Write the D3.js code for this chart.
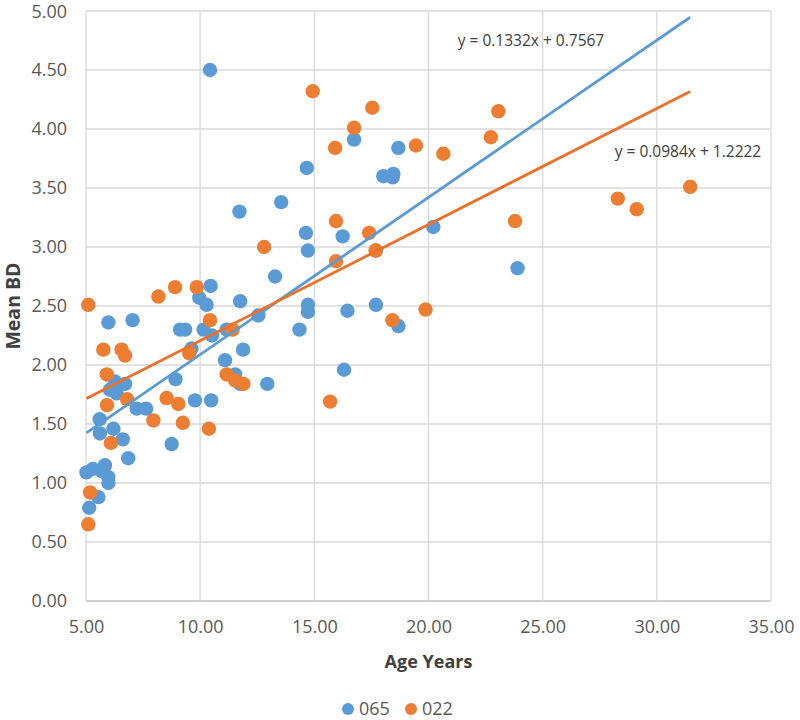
<!DOCTYPE html>
<html>
<head>
<meta charset="utf-8">
<script src="https://cdn.jsdelivr.net/npm/d3@7"></script>
<style>
  html, body { margin: 0; padding: 0; background: #fff; }
  svg { display: block; font-family: "Open Sans", "Noto Sans", sans-serif; }
</style>
</head>
<body>
<svg id="chart" width="800" height="720"></svg>
<script>
// ---- Data ----
const seriesNames = ["065", "022"];
const seriesColors = ["#5B9BD5", "#ED7D31"];
const trendColors = ["#5B9BD5", "#EE7028"];

const ageBlue = [10.43, 14.67, 16.74, 18.68, 18.02, 18.46, 18.43, 11.72, 13.55, 14.63,
  14.72, 16.24, 20.21, 23.90, 13.28, 10.46, 9.96, 10.28, 11.75, 14.72,
  14.72, 16.45, 17.70, 18.68, 12.55, 14.35, 9.12, 9.34, 10.15, 10.52,
  11.16, 5.98, 7.04, 9.62, 11.09, 11.88, 16.30, 12.94, 11.53, 11.75,
  8.92, 6.05, 6.27, 6.34, 6.71, 7.22, 7.63, 9.77, 10.48, 5.60,
  5.61, 6.20, 6.61, 8.75, 6.85, 5.02, 5.30, 5.83, 5.98, 5.98,
  5.54, 5.14, 17.70, 5.69];
const bdBlue = [4.50, 3.67, 3.91, 3.84, 3.60, 3.62, 3.59, 3.30, 3.38, 3.12,
  2.97, 3.09, 3.17, 2.82, 2.75, 2.67, 2.57, 2.51, 2.54, 2.51,
  2.45, 2.46, 2.51, 2.33, 2.42, 2.30, 2.30, 2.30, 2.30, 2.25,
  2.30, 2.36, 2.38, 2.14, 2.04, 2.13, 1.96, 1.84, 1.92, 1.84,
  1.88, 1.79, 1.86, 1.76, 1.84, 1.63, 1.63, 1.70, 1.70, 1.54,
  1.42, 1.46, 1.37, 1.33, 1.21, 1.09, 1.12, 1.15, 1.05, 1.00,
  0.88, 0.79, 2.97, 1.10];

const ageOrange = [5.10, 8.17, 8.90, 9.85, 10.43, 5.76, 6.56, 6.71, 5.91, 9.52,
  11.42, 11.16, 11.53, 11.89, 15.69, 6.80, 8.53, 9.04, 5.92, 7.95,
  9.24, 10.38, 6.09, 5.18, 5.10, 12.80, 14.93, 16.74, 15.91, 17.54,
  15.95, 15.95, 17.40, 17.68, 19.45, 20.65, 23.06, 22.73, 23.79, 18.42,
  19.87, 28.29, 29.12, 31.46];
const bdOrange = [2.51, 2.58, 2.66, 2.66, 2.38, 2.13, 2.13, 2.08, 1.92, 2.10,
  2.30, 1.92, 1.87, 1.84, 1.69, 1.71, 1.72, 1.67, 1.66, 1.53,
  1.51, 1.46, 1.34, 0.92, 0.65, 3.00, 4.32, 4.01, 3.84, 4.18,
  3.22, 2.88, 3.12, 2.97, 3.86, 3.79, 4.15, 3.93, 3.22, 2.38,
  2.47, 3.41, 3.32, 3.51];

// Trend line equations as printed on the chart
const trendSlopes = [0.1332, 0.0984];
const trendIntercepts = [0.7567, 1.2222];
const trendLabels = ["y = 0.1332x + 0.7567", "y = 0.0984x + 1.2222"];

const xTicks = [5, 10, 15, 20, 25, 30, 35];
const yTicks = [0, 0.5, 1, 1.5, 2, 2.5, 3, 3.5, 4, 4.5, 5];
const xTitle = "Age Years";
const yTitle = "Mean BD";

// ---- Layout ----
const svg = d3.select("#chart");
const plot = { left: 86, right: 771, top: 11, bottom: 601 };
const x = d3.scaleLinear().domain([5, 35]).range([plot.left, plot.right]);
const y = d3.scaleLinear().domain([0, 5]).range([plot.bottom, plot.top]);

// gridlines
const grid = svg.append("g");
grid.selectAll("line.h").data(yTicks).join("line")
  .attr("x1", plot.left).attr("x2", plot.right)
  .attr("y1", d => y(d)).attr("y2", d => y(d))
  .attr("stroke", d => d === 0 ? "#BFBFBF" : "#D9D9D9").attr("stroke-width", 1.3);
grid.selectAll("line.v").data(xTicks).join("line")
  .attr("y1", plot.top).attr("y2", plot.bottom)
  .attr("x1", d => x(d)).attr("x2", d => x(d))
  .attr("stroke", "#D9D9D9").attr("stroke-width", 1.3);

// axes (labels only)
const fmt = d3.format(".2f");
const xAxis = svg.append("g").attr("transform", `translate(0,${plot.bottom})`)
  .call(d3.axisBottom(x).tickValues(xTicks).tickFormat(fmt).tickSize(0).tickPadding(19));
const yAxis = svg.append("g").attr("transform", `translate(${plot.left},0)`)
  .call(d3.axisLeft(y).tickValues(yTicks).tickFormat(fmt).tickSize(0).tickPadding(19));
[xAxis, yAxis].forEach(a => {
  a.select(".domain").remove();
  a.selectAll("text").attr("fill", "#595959").style("font-size", "18px")
    .style("font-family", "'Open Sans', 'Noto Sans', sans-serif");
});
yAxis.selectAll(".tick").filter(d => d === 5).select("text").attr("dy", "0.36em");

// axis titles
svg.append("text").attr("x", (plot.left + plot.right) / 2).attr("y", 668)
  .attr("text-anchor", "middle").attr("fill", "#404040")
  .style("font-size", "18px").style("font-weight", "bold").text(xTitle);
svg.append("text")
  .attr("transform", `translate(20,${(plot.top + plot.bottom) / 2}) rotate(-90)`)
  .attr("text-anchor", "middle").attr("fill", "#404040")
  .style("font-size", "19.5px").style("font-weight", "bold").text(yTitle);

// points
const seriesData = [
  ageBlue.map((a, i) => ({ a, b: bdBlue[i] })),
  ageOrange.map((a, i) => ({ a, b: bdOrange[i] }))
];
seriesData.forEach((data, s) => {
  svg.append("g").selectAll("circle").data(data).join("circle")
    .attr("cx", d => x(d.a)).attr("cy", d => y(d.b)).attr("r", 7.2)
    .attr("fill", seriesColors[s]);
});

// trend lines over the full data range
const allAges = ageBlue.concat(ageOrange);
const xMin = d3.min(allAges), xMax = d3.max(allAges);
const line = d3.line().x(d => x(d[0])).y(d => y(d[1]));
trendSlopes.forEach((m, s) => {
  const pts = [xMin, xMax].map(v => [v, m * v + trendIntercepts[s]]);
  svg.append("path").attr("d", line(pts)).attr("fill", "none")
    .attr("stroke", trendColors[s]).attr("stroke-width", 2.8);
});

// trend equations
const eqPos = [[531, 46], [688, 157]];
trendLabels.forEach((t, s) => {
  svg.append("text").attr("x", eqPos[s][0]).attr("y", eqPos[s][1])
    .attr("text-anchor", "middle").attr("fill", "#404040")
    .style("font-size", "15.5px").text(t);
});

// legend
const legendX = [348, 411];
seriesNames.forEach((n, s) => {
  svg.append("circle").attr("cx", legendX[s]).attr("cy", 709).attr("r", 6)
    .attr("fill", seriesColors[s]);
  svg.append("text").attr("x", legendX[s] + 11).attr("y", 715)
    .attr("fill", "#595959").style("font-size", "18px").text(n);
});
</script>
</body>
</html>
